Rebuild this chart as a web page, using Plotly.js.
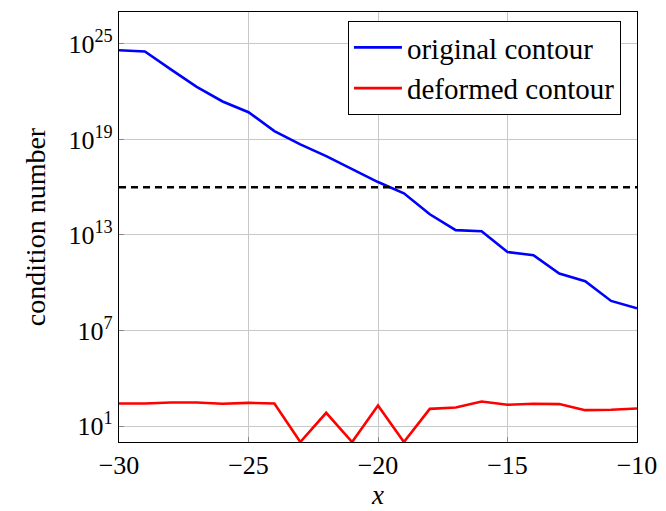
<!DOCTYPE html>
<html>
<head>
<meta charset="utf-8">
<script src="https://cdn.plot.ly/plotly-3.0.1.min.js"></script>
<style>
  html, body { margin: 0; padding: 0; background: #fff; }
  #plot { width: 666px; height: 511px; }
</style>
</head>
<body>
<div id="plot"></div>
<script>
// Sample positions along the contour
const xs = [-30, -29, -28, -27, -26, -25, -24, -23, -22, -21, -20,
            -19, -18, -17, -16, -15, -14, -13, -12, -11, -10];

// Condition number along the original contour
const original = [4.0e24, 3.3e24, 2.5e23, 2.0e22, 2.4e21, 5.1e20, 3.3e19, 4.9e18,
                  8.9e17, 1.3e17, 2.1e16, 4.1e15, 2.0e14, 2.0e13, 1.7e13, 8.5e11,
                  5.4e11, 3.8e10, 1.26e10, 7.2e8, 2.5e8];

// Condition number along the deformed contour
const deformed = [263, 263, 302, 302, 251, 288, 263, 1, 68, 1, 195,
                  1, 120, 148, 347, 219, 251, 240, 100, 105, 126];

// Threshold level (dashed line)
const threshold = 1e16;
const thresholdX = [-30, -10];

// Axis ticks
const xTicks = [-30, -25, -20, -15, -10];
const xTickText = ['\u221230', '\u221225', '\u221220', '\u221215', '\u221210'];
const yTicks = [1e1, 1e7, 1e13, 1e19, 1e25];
const yTickText = ['10<sup>1</sup>', '10<sup>7</sup>', '10<sup>13</sup>', '10<sup>19</sup>', '10<sup>25</sup>'];

const serif = "'Liberation Serif', 'DejaVu Serif', serif";

const traces = [
  {
    x: xs, y: original, type: 'scatter', mode: 'lines',
    name: 'original contour',
    line: { color: '#0000ff', width: 2.6 }
  },
  {
    x: xs, y: deformed, type: 'scatter', mode: 'lines',
    name: 'deformed contour',
    line: { color: '#ff0000', width: 2.6 }
  },
  {
    x: thresholdX, y: thresholdX.map(() => threshold), type: 'scatter', mode: 'lines',
    showlegend: false, hoverinfo: 'skip',
    line: { color: '#000000', width: 2.6, dash: '7px,5px' }
  }
];

const layout = {
  width: 666, height: 511,
  margin: { l: 119, r: 29, t: 12, b: 69 },
  paper_bgcolor: '#ffffff', plot_bgcolor: '#ffffff',
  font: { family: serif, color: '#000', size: 26 },
  showlegend: true,
  legend: {
    x: 0.969, y: 0.979, xanchor: 'right', yanchor: 'top',
    bgcolor: '#ffffff', bordercolor: '#000', borderwidth: 1,
    font: { family: serif, size: 29, color: '#000' },
    itemwidth: 48,
    tracegroupgap: 0
  },
  xaxis: {
    range: [-30, -10],
    tickvals: xTicks, ticktext: xTickText,
    tickfont: { family: serif, size: 26 },
    showgrid: true, gridcolor: '#c8c8c8', gridwidth: 1,
    zeroline: false,
    showline: true, linecolor: '#000', linewidth: 1.2, mirror: true,
    ticks: 'inside', ticklen: 5, tickcolor: '#888', tickwidth: 1,
    title: { text: '<i>x</i>', font: { family: serif, size: 27 }, standoff: 5 }
  },
  yaxis: {
    type: 'log',
    range: [0, 27],
    tickvals: yTicks, ticktext: yTickText,
    tickfont: { family: serif, size: 26 },
    showgrid: true, gridcolor: '#c8c8c8', gridwidth: 1,
    zeroline: false,
    showline: true, linecolor: '#000', linewidth: 1.2, mirror: true,
    ticks: 'inside', ticklen: 5, tickcolor: '#888', tickwidth: 1,
    title: { text: 'condition number', font: { family: serif, size: 28 }, standoff: 14 }
  }
};

Plotly.newPlot('plot', traces, layout, { staticPlot: true, displayModeBar: false });
</script>
</body>
</html>
